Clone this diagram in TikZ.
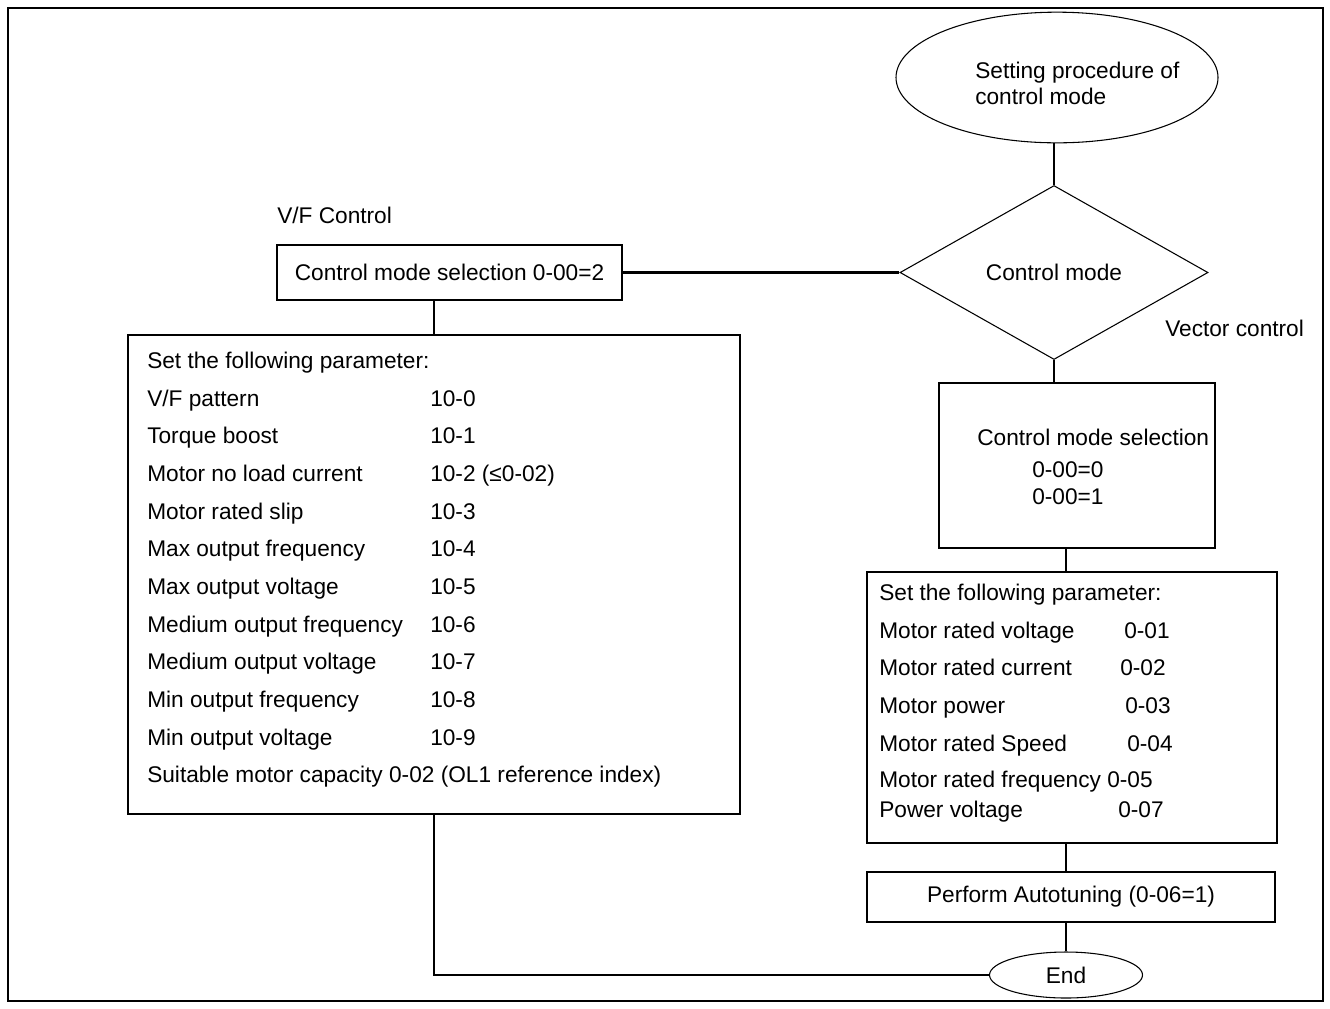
\documentclass[tikz,border=0pt]{standalone}
\usepackage{fontspec}
\setmainfont{Liberation Sans}
\usepackage{tikz}
\usetikzlibrary{shapes.geometric,positioning,calc}

\begin{document}
\begin{tikzpicture}[
    x=0.75pt, y=-0.75pt,
    every node/.style={font=\fontsize{17}{19.5}\selectfont, inner sep=0pt},
    box/.style={draw, rectangle, line width=1.6pt},
    term/.style={draw, ellipse, line width=0.8pt},
    decision/.style={draw, diamond, line width=0.8pt},
    txt/.style={anchor=west, text height=12pt, text depth=0pt},
    link/.style={line width=1.6pt}
]
\useasboundingbox (0,0) rectangle (1330,1008);
\draw[line width=2.2pt] (8,8) rectangle (1323,1001);

% Start and decision
\node[term, minimum width=241.5pt, minimum height=98pt] (start) at (1057,77.5) {};
\node[anchor=west, align=left] (starttxt) at (975,83) {Setting procedure of\\control mode};
\node[decision, minimum width=231pt, minimum height=130.5pt] (dia) at (1054,272.5) {Control mode};
\draw[link] (dia.north |- start.south) -- (dia.north);

% V/F control branch
\node[txt] (vflbl) at (277,215) {V/F Control};
\node[box, minimum width=258.75pt, minimum height=41.25pt] (vfsel) at (449.5,272.5) {Control mode selection 0-00=2};
\draw[link] (dia.west) -- (vfsel.east);

\node[box, minimum width=459pt, minimum height=359.25pt] (vfpar) at (434,574.5) {};
\draw[link] (vfpar.north |- vfsel.south) -- (vfpar.north);
\node[txt] (vfhead) at (147,360) {Set the following parameter:};
\foreach \name/\val [count=\i from 0] in {{V/F pattern}/10-0, Torque boost/10-1,
    Motor no load current/10-2 (≤0-02), Motor rated slip/10-3,
    Max output frequency/10-4, Max output voltage/10-5,
    Medium output frequency/10-6, Medium output voltage/10-7,
    Min output frequency/10-8, Min output voltage/10-9}{
  \node[txt] (vfrow\i) at (147,{398+37.7*\i}) {\name};
  \node[txt] (vfval\i) at (430,{398+37.7*\i}) {\val};
}
\node[txt] (vfcap) at (147,774) {Suitable motor capacity 0-02 (OL1 reference index)};

% Vector control branch
\node[txt] (veclbl) at (1165,328) {Vector control};
\node[box, minimum width=207pt, minimum height=123.75pt] (vecsel) at (1077,465.5) {};
\draw[link] (dia.south) -- (dia.south |- vecsel.north);
\node[txt] (vecseltxt) at (977,437) {Control mode selection};
\node[txt] (vecsel0) at (1032,469) {0-00=0};
\node[txt] (vecsel1) at (1032,496) {0-00=1};

\node[box, minimum width=307.5pt, minimum height=203.25pt] (vecpar) at (1072,707.5) {};
\node[txt] (vechead) at (879,592) {Set the following parameter:};
\foreach \name/\val/\vx/\vy [count=\i] in {Motor rated voltage/0-01/1124/630,
    Motor rated current/0-02/1120/667, Motor power/0-03/1125/705,
    Motor rated Speed/0-04/1127/743, Motor rated frequency/0-05/1107/779,
    Power voltage/0-07/1118/809}{
  \node[txt] (vecrow\i) at (879,\vy) {\name};
  \node[txt] (vecval\i) at (\vx,\vy) {\val};
}

\node[box, minimum width=306pt, minimum height=37.5pt] (tune) at (1071,897) {Perform Autotuning (0-06=1)};
\node[term, minimum width=114.75pt, minimum height=34.5pt] (stop) at (1066,975) {End};

% Connectors to End
\draw[link] (stop.north |- vecsel.south) -- (stop.north |- vecpar.north);
\draw[link] (stop.north |- vecpar.south) -- (stop.north |- tune.north);
\draw[link] (stop.north |- tune.south) -- (stop.north);
\draw[link] (vfpar.south) |- (stop.west);
\end{tikzpicture}
\end{document}
